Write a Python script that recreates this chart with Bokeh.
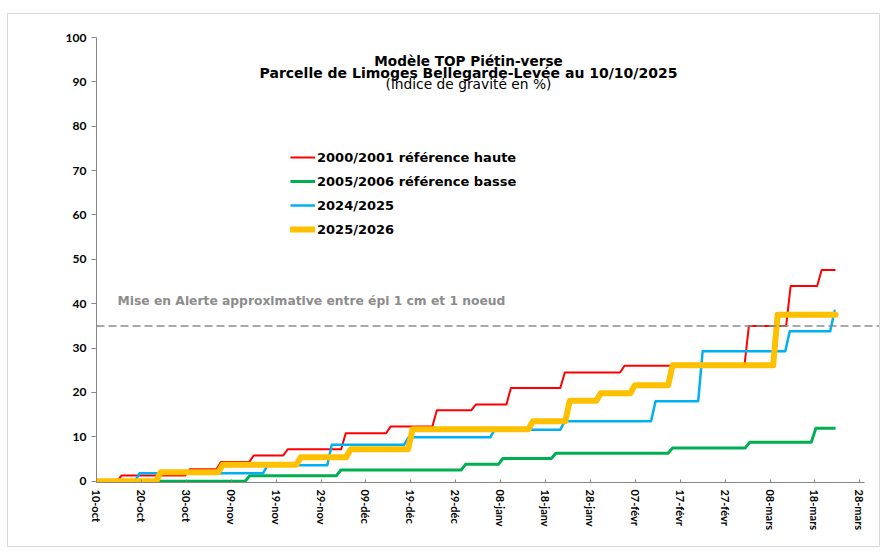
import math
from bokeh.plotting import figure
from bokeh.models import Range1d, FixedTicker, Label, Legend, LegendItem, Span
from bokeh.embed import file_html
from bokeh.resources import INLINE

# ---- data (days counted from 10 October) ----
tick_days = [0, 10, 20, 30, 40, 50, 60, 70, 80, 90, 100, 110, 120, 130, 140, 150, 160, 170]
tick_labels = ["10-oct", "20-oct", "30-oct", "09-nov", "19-nov", "29-nov", "09-déc",
               "19-déc", "29-déc", "08-janv", "18-janv", "28-janv", "07-févr",
               "17-févr", "27-févr", "08-mars", "18-mars", "28-mars"]
y_ticks = [0, 10, 20, 30, 40, 50, 60, 70, 80, 90, 100]

last_day = 164.6

red_days = [5.1, 20.3, 27.2, 34.5, 42.1, 55.0, 65.0, 75.3, 84.0, 91.8, 103.8, 117.1, 144.8, 154.1, 161.0]
red_vals = [1.3, 2.7, 4.3, 5.8, 7.2, 10.8, 12.3, 16.0, 17.3, 21.0, 24.5, 26.0, 35.0, 44.0, 47.6]

green_days = [33.6, 53.9, 81.7, 90.0, 101.8, 127.8, 145.0, 159.7]
green_vals = [1.2, 2.5, 3.8, 5.1, 6.3, 7.5, 8.8, 11.9]

blue_days = [9.1, 37.6, 51.9, 69.0, 88.2, 103.8, 124.0, 134.5, 153.9, 163.9]
blue_vals = [1.8, 3.6, 8.2, 9.9, 11.6, 13.5, 18.0, 29.3, 33.8, 38.4]

orange_days = [13.8, 27.6, 45.0, 56.1, 69.9, 96.7, 104.9, 111.8, 119.4, 127.8, 151.2]
orange_vals = [2.0, 3.7, 5.4, 7.2, 11.7, 13.5, 18.1, 19.8, 21.6, 26.1, 37.5]

alert_level = 35

series_names = ["2000/2001 référence haute", "2005/2006 référence basse", "2024/2025", "2025/2026"]


def step_path(days, vals, end, ramp=1.0):
    xs, ys, prev = [0.0], [0.0], 0.0
    for d, v in zip(days, vals):
        xs += [d - ramp / 2, d + ramp / 2]
        ys += [prev, v]
        prev = v
    xs.append(end)
    ys.append(prev)
    return xs, ys


p = figure(width=873, height=534,
           x_range=Range1d(0, 174.83), y_range=Range1d(-0.3, 100),
           output_backend="svg", toolbar_location=None,
           min_border_left=88, min_border_right=0,
           min_border_top=23, min_border_bottom=66)
p.styles = {"border": "1px solid #d9d9d9", "margin-top": "13px", "margin-left": "7px"}
p.outline_line_color = None
p.xgrid.grid_line_color = None
p.ygrid.grid_line_color = None
p.background_fill_color = "white"
p.border_fill_color = "white"

axis_col = "#868686"
p.xaxis.ticker = FixedTicker(ticks=tick_days)
p.xaxis.major_label_overrides = {d: l for d, l in zip(tick_days, tick_labels)}
p.xaxis.major_label_orientation = -math.pi / 2
p.xaxis.bounds = (0, 171)
p.xaxis.axis_line_color = axis_col
p.xaxis.major_tick_line_color = axis_col
p.xaxis.major_tick_in = 3
p.xaxis.major_tick_out = 0
p.xaxis.minor_tick_line_color = None
p.xaxis.major_label_standoff = 7
p.xaxis.major_label_text_font = "Lato"
p.xaxis.major_label_text_font_style = "bold"
p.xaxis.major_label_text_font_size = "11px"
p.xaxis.major_label_text_color = "black"

p.yaxis.ticker = FixedTicker(ticks=y_ticks)
p.yaxis.bounds = (-0.3, 100)
p.yaxis.axis_line_color = axis_col
p.yaxis.major_tick_line_color = axis_col
p.yaxis.major_tick_in = 0
p.yaxis.major_tick_out = 5
p.yaxis.minor_tick_line_color = None
p.yaxis.major_label_standoff = 5
p.yaxis.major_label_text_font = "Lato"
p.yaxis.major_label_text_font_style = "bold"
p.yaxis.major_label_text_font_size = "12px"
p.yaxis.major_label_text_color = "black"

# alert threshold
p.add_layout(Span(location=alert_level, dimension="width", line_color="#8c8c8c",
                  line_width=1.5, line_dash="8 4"))
p.add_layout(Label(x=4.7, y=40.5, text="Mise en Alerte approximative entre épi 1 cm et 1 noeud",
                   text_font="DejaVu Sans", text_font_style="bold", text_font_size="12.3px",
                   text_color="#8c8c8c", text_baseline="middle", text_align="left"))

# series
rx, ry = step_path(red_days, red_vals, last_day)
gx, gy = step_path(green_days, green_vals, last_day)
bx, by = step_path(blue_days, blue_vals, last_day)
ox, oy = step_path(orange_days, orange_vals, last_day)

r_red = p.line(rx, ry, line_color="#FF0000", line_width=2, line_join="round")
r_green = p.line(gx, gy, line_color="#00B050", line_width=3, line_join="round")
r_blue = p.line(bx, by, line_color="#00B0F0", line_width=2.5, line_join="round")
r_orange = p.line(ox, oy, line_color="#FFC000", line_width=6, line_join="round", line_cap="round")

legend = Legend(items=[LegendItem(label=n, renderers=[r]) for n, r in
                       zip(series_names, [r_red, r_green, r_blue, r_orange])],
                location=(194, 243), padding=0, margin=0, spacing=4,
                glyph_width=25, glyph_height=20, label_height=20, label_standoff=2,
                label_text_font="DejaVu Sans", label_text_font_style="bold",
                label_text_font_size="13px", label_text_color="black",
                border_line_color=None, background_fill_alpha=0)
p.add_layout(legend)

# titles
tx = 82.85
p.add_layout(Label(x=tx, y=94.6, text="Modèle TOP Piétin-verse", text_align="center",
                   text_baseline="middle", text_font="DejaVu Sans", text_font_style="bold",
                   text_font_size="13.6px", text_color="black"))
p.add_layout(Label(x=tx, y=91.9, text="Parcelle de Limoges Bellegarde-Levée au 10/10/2025",
                   text_align="center", text_baseline="middle", text_font="DejaVu Sans",
                   text_font_style="bold", text_font_size="14px", text_color="black"))
p.add_layout(Label(x=tx, y=89.5, text="(indice de gravité en %)", text_align="center",
                   text_baseline="middle", text_font="DejaVu Sans", text_font_size="13.8px",
                   text_color="black"))

open("out.html", "w").write(file_html(p, INLINE))
